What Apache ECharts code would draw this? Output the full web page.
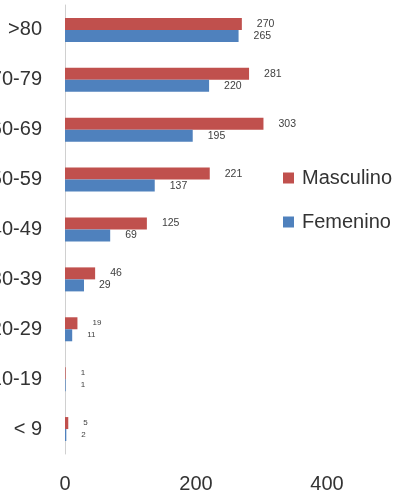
<!DOCTYPE html>
<html>
<head>
<meta charset="utf-8">
<script src="https://cdn.jsdelivr.net/npm/echarts@6/dist/echarts.min.js"></script>
<style>
  html, body { margin: 0; padding: 0; background: #fff; }
  #chart { width: 400px; height: 490px; }
</style>
</head>
<body>
<div id="chart"></div>
<script>
const categories = ['< 9', '10-19', '20-29', '30-39', '40-49', '50-59', '60-69', '70-79', '>80'];
const masculino = [5, 1, 19, 46, 125, 221, 303, 281, 270];
const femenino = [2, 1, 11, 29, 69, 137, 195, 220, 265];
const xTicks = [0, 200, 400];

const labelColor = '#404040';
function items(arr) {
  return arr.map(v => ({ value: v, label: { fontSize: v < 20 ? 8 : 10.5 } }));
}

const chart = echarts.init(document.getElementById('chart'), null, { renderer: 'canvas' });
chart.setOption({
  animation: false,
  backgroundColor: '#ffffff',
  textStyle: { fontFamily: 'Liberation Sans' },
  grid: { left: 65, right: 73, top: 5, bottom: 36, containLabel: false, outerBoundsMode: 'none' },
  legend: {
    orient: 'vertical',
    left: 283,
    top: 168,
    padding: 0,
    data: ['Masculino', 'Femenino'],
    icon: 'rect',
    itemWidth: 11,
    itemHeight: 11,
    itemGap: 24,
    textStyle: { fontSize: 20, color: '#333', fontFamily: 'Liberation Sans', padding: [0, 0, 0, 3] }
  },
  xAxis: {
    type: 'value',
    min: xTicks[0],
    max: xTicks[xTicks.length - 1],
    interval: xTicks[1] - xTicks[0],
    axisLine: { show: false },
    axisTick: { show: false },
    splitLine: { show: false },
    axisLabel: { fontSize: 20, color: '#333', margin: 20 }
  },
  yAxis: {
    type: 'category',
    data: categories,
    axisLine: { show: true, lineStyle: { color: '#d0d0d0', width: 1 } },
    axisTick: { show: false },
    axisLabel: { fontSize: 20, color: '#333', margin: 23 }
  },
  series: [
    {
      name: 'Masculino',
      type: 'bar',
      data: items(masculino),
      barWidth: 12,
      barGap: '0%',
      itemStyle: { color: '#C0504D' },
      label: { show: true, position: 'right', distance: 15, color: labelColor }
    },
    {
      name: 'Femenino',
      type: 'bar',
      data: items(femenino),
      barWidth: 12,
      barGap: '0%',
      itemStyle: { color: '#4F81BD' },
      label: { show: true, position: 'right', distance: 15, color: labelColor }
    }
  ]
});
</script>
</body>
</html>
